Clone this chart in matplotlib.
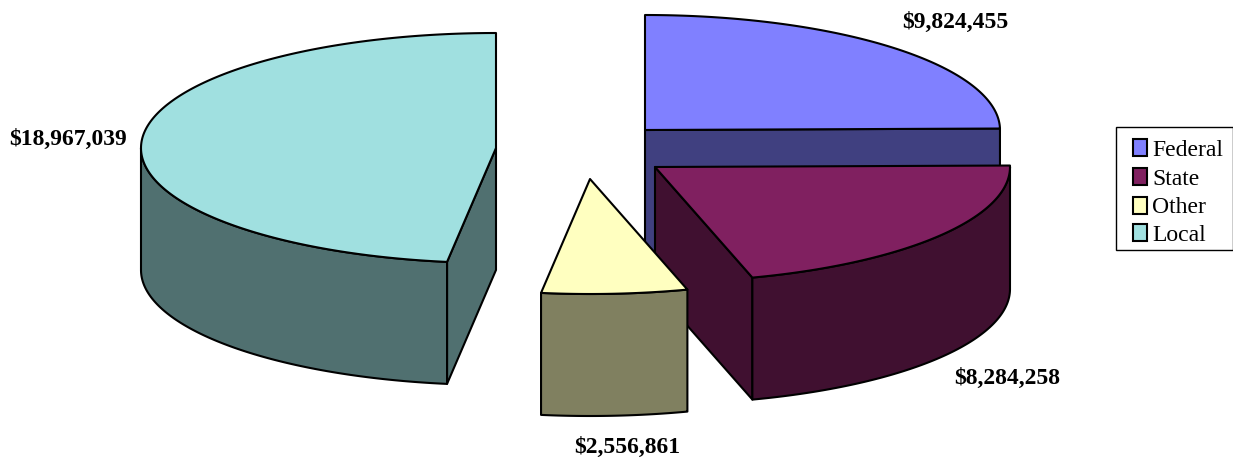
import numpy as np
import matplotlib
matplotlib.use("Agg")
import matplotlib.pyplot as plt
from matplotlib.patches import Polygon, Rectangle

# data
categories = ["Federal", "State", "Other", "Local"]
values = [9824455, 8284258, 2556861, 18967039]
value_labels = ["$9,824,455", "$8,284,258", "$2,556,861", "$18,967,039"]
top_colors = ["#8080FF", "#802060", "#FFFFC0", "#A0E0E0"]
side_colors = ["#404080", "#401030", "#808060", "#507070"]

# pie layout, in pixels of the figure
centers = [(645, 130), (655, 167), (590, 179), (496, 148)]
label_pos = [(955, 22), (1007, 378), (627, 447), (68, 139)]
rx, ry = 355, 115
depth = 122
W, H = 1233, 463

fig = plt.figure(figsize=(W / 100, H / 100), dpi=100)
ax = fig.add_axes([0, 0, 1, 1])
ax.set_xlim(0, W)
ax.set_ylim(H, 0)
ax.axis("off")
serif = "Liberation Serif"


def rim(c, a1, a2):
    t = np.radians(np.linspace(a1, a2, 200))
    # small warp of the angle, the old 3D view is not a pure ellipse
    t = t - np.radians(0.8) * np.sin(2 * t)
    return np.column_stack([c[0] + rx * np.cos(t), c[1] + ry * np.sin(t)])


def shape(ax, pts, color, z):
    ax.add_patch(Polygon(pts, closed=True, fc=color, ec="black", lw=1.5, zorder=z, joinstyle="round"))


# angles in screen terms, clockwise from the top (y axis points down)
shares = np.array(values) / sum(values) * 360
ends = -90 + np.cumsum(shares)
starts = ends - shares
order = [0, 1, 3, 2]
down = np.array([0, depth])

for z, i in enumerate(order):
    c = centers[i]
    a1, a2 = starts[i], ends[i]
    arc = rim(c, a1, a2)
    zz = z * 10
    e = rim(c, a2, a2)[0]
    s = rim(c, a1, a1)[0]

    # radial wall that looks to the viewer
    if i == 0 or i == 1:
        shape(ax, np.array([c, e, e + down, np.array(c) + down]), side_colors[i], zz)
    if i == 3:
        shape(ax, np.array([c, s, s + down, np.array(c) + down]), side_colors[i], zz)

    # outer wall, only the part on the front of the ellipse
    lo = max(a1, 0)
    hi = min(a2, 180)
    if i == 3:
        lo, hi = a1, 180
    if hi > lo and i != 0:
        front = rim(c, lo, hi)
        shape(ax, np.vstack([front, (front + down)[::-1]]), side_colors[i], zz + 1)

    # top
    shape(ax, np.vstack([c, arc]), top_colors[i], zz + 2)

for lab, p in zip(value_labels, label_pos):
    ax.text(p[0], p[1], lab, family=serif, weight="bold", fontsize=17, ha="center", va="center", zorder=100)

# legend
ax.add_patch(Rectangle((1116, 127), 117, 123, fc="white", ec="black", lw=1, zorder=50))
leg_y = [147.5, 176, 205, 232.5]
leg_base = [156, 185, 213, 241]
for cat, col, y, b in zip(categories, top_colors, leg_y, leg_base):
    ax.add_patch(Rectangle((1132.5, y - 8.5), 14, 17, fc=col, ec="black", lw=1.5, zorder=51))
    ax.text(1152, b, cat, family=serif, fontsize=17, ha="left", va="baseline", zorder=51)

fig.savefig("out.png", dpi=100)
